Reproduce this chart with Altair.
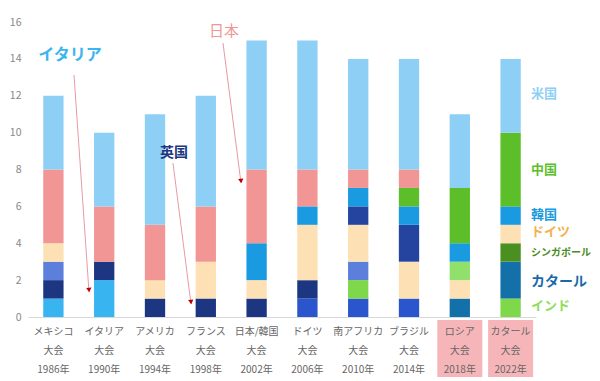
import altair as alt
import pandas as pd

# ---- data ----
events = ["メキシコ|大会|1986年", "イタリア|大会|1990年", "アメリカ|大会|1994年",
          "フランス|大会|1998年", "日本/韓国|大会|2002年", "ドイツ|大会|2006年",
          "南アフリカ|大会|2010年", "ブラジル|大会|2014年", "ロシア|大会|2018年",
          "カタール|大会|2022年"]

# segments bottom -> top (country, number of sponsors)
s1986 = [("イタリア", 1), ("英国", 1), ("その他1", 1), ("ドイツ", 1), ("日本", 4), ("米国", 4)]
s1990 = [("イタリア", 2), ("英国", 1), ("日本", 3), ("米国", 4)]
s1994 = [("英国", 1), ("ドイツ", 1), ("日本", 3), ("米国", 6)]
s1998 = [("英国", 1), ("ドイツ", 2), ("日本", 3), ("米国", 6)]
s2002 = [("英国", 1), ("ドイツ", 1), ("韓国", 2), ("日本", 4), ("米国", 7)]
s2006 = [("その他2", 1), ("英国", 1), ("ドイツ", 3), ("韓国", 1), ("日本", 2), ("米国", 7)]
s2010 = [("その他2", 1), ("インド", 1), ("その他1", 1), ("ドイツ", 2), ("その他3", 1),
         ("韓国", 1), ("日本", 1), ("米国", 6)]
s2014 = [("その他2", 1), ("ドイツ", 2), ("その他3", 2), ("韓国", 1), ("中国", 1), ("日本", 1), ("米国", 6)]
s2018 = [("カタール", 1), ("ドイツ", 1), ("ロシア", 1), ("韓国", 1), ("中国", 3), ("米国", 4)]
s2022 = [("インド", 1), ("カタール", 2), ("シンガポール", 1), ("ドイツ", 1), ("韓国", 1), ("中国", 4), ("米国", 4)]
stacks = [s1986, s1990, s1994, s1998, s2002, s2006, s2010, s2014, s2018, s2022]

cat_names = ["イタリア", "英国", "その他1", "ドイツ", "日本", "米国", "韓国", "その他2",
             "インド", "その他3", "中国", "カタール", "ロシア", "シンガポール"]
cat_colors = ["#38b4f0", "#1c3681", "#5b7fdb", "#fde0b4", "#f29595", "#8ecff5", "#1a9ae0",
              "#2b55cc", "#7ed84a", "#2444a0", "#5cbf2a", "#1470a8", "#92e06c", "#4a9020"]

highlight_events = ["ロシア|大会|2018年", "カタール|大会|2022年"]

# right-side labels
lab_text = ["米国", "中国", "韓国", "ドイツ", "シンガポール", "カタール", "インド"]
lab_ypos = [12.1, 8.0, 5.55, 4.6, 3.45, 1.9, 0.6]
lab_color = ["#8ecff5", "#5cbf2a", "#1a9ae0", "#f5b050", "#4a8a20", "#1a6aa8", "#8ede5a"]
lab_size = [13, 13, 13, 13, 10, 14, 13]

rows = []
for ev, segs in zip(events, stacks):
    for i, (cat, val) in enumerate(segs):
        rows.append({"event": ev, "cat": cat, "value": val, "idx": i})
df = pd.DataFrame(rows)

W, H = 508, 295
FONT = "Noto Sans CJK JP"

xenc = alt.X("event:N", sort=events,
             scale=alt.Scale(paddingInner=0.6, paddingOuter=0.3),
             axis=alt.Axis(title=None, labelAngle=0, labelAlign="center",
                           labelExpr="split(datum.label, '|')",
                           labelLineHeight=19, labelFontSize=10, labelColor="#666666",
                           labelFont=FONT, ticks=False, domainColor="#d9d9d9",
                           labelPadding=9, zindex=1, labelBaseline="top"))

yaxis = alt.Axis(values=list(range(0, 17, 2)), grid=False, domain=False, ticks=False,
                 labelColor="#888888", labelFontSize=10.5, labelPadding=7, title=None,
                 labelFont=FONT)

highlight = alt.Chart(pd.DataFrame({"event": highlight_events})).mark_bar(
    size=45, color="#f6b6b9").encode(
    x=alt.X("event:N", sort=events), y=alt.value(H + 3), y2=alt.value(H + 64))

bars = alt.Chart(df).mark_bar().encode(
    x=xenc,
    y=alt.Y("value:Q", stack="zero", scale=alt.Scale(domain=[0, 16]), axis=yaxis),
    color=alt.Color("cat:N", scale=alt.Scale(domain=cat_names, range=cat_colors), legend=None),
    order=alt.Order("idx:Q", sort="ascending"),
)

labdf = pd.DataFrame({"t": lab_text, "ypos": lab_ypos, "c": lab_color, "s": lab_size})
labels = alt.Chart(labdf).mark_text(align="left", baseline="middle", font=FONT,
                                    fontWeight="bold").encode(
    x=alt.value(503),
    y=alt.Y("ypos:Q", scale=alt.Scale(domain=[0, 16]), axis=yaxis),
    text="t:N",
    color=alt.Color("c:N", scale=None),
    size=alt.Size("s:Q", scale=None),
)

# annotations (text, text position, arrow start, arrow end, colour, size, weight, head angle)
annos = [
    ("イタリア", (42, 33), (46, 53), (61, 270), "#3bb5f0", 16, "bold", 356),
    ("英国", (146, 131), (145, 141), (163, 282), "#1c3681", 14, "bold", 353),
    ("日本", (196, 9), (195, 21), (213, 161), "#f29595", 15, "normal", 353),
]
one = pd.DataFrame({"a": [0]})
layers = [highlight, bars, labels]
for txt, tp, a0, a1, col, fs, fw, ang in annos:
    layers.append(alt.Chart(one).mark_text(font=FONT, fontSize=fs, fontWeight=fw, color=col,
                                           align="center", baseline="middle").encode(
        x=alt.value(tp[0]), y=alt.value(tp[1]), text=alt.value(txt)))
    layers.append(alt.Chart(one).mark_rule(color="#e79aa6", strokeWidth=1).encode(
        x=alt.value(a0[0]), y=alt.value(a0[1]), x2=alt.value(a1[0]), y2=alt.value(a1[1])))
    layers.append(alt.Chart(one).mark_point(shape="triangle-down", filled=True, color="#c00000",
                                            size=28, opacity=1, angle=ang).encode(
        x=alt.value(a1[0]), y=alt.value(a1[1] - 2)))

chart = alt.layer(*layers).properties(
    width=W, height=H,
    padding={"left": 20, "top": 14, "right": 56, "bottom": 60},
    autosize=alt.AutoSizeParams(type="none"),
    background="white",
).configure_view(stroke=None)

chart.save("out.html", embed_options={"renderer": "svg", "actions": False})
